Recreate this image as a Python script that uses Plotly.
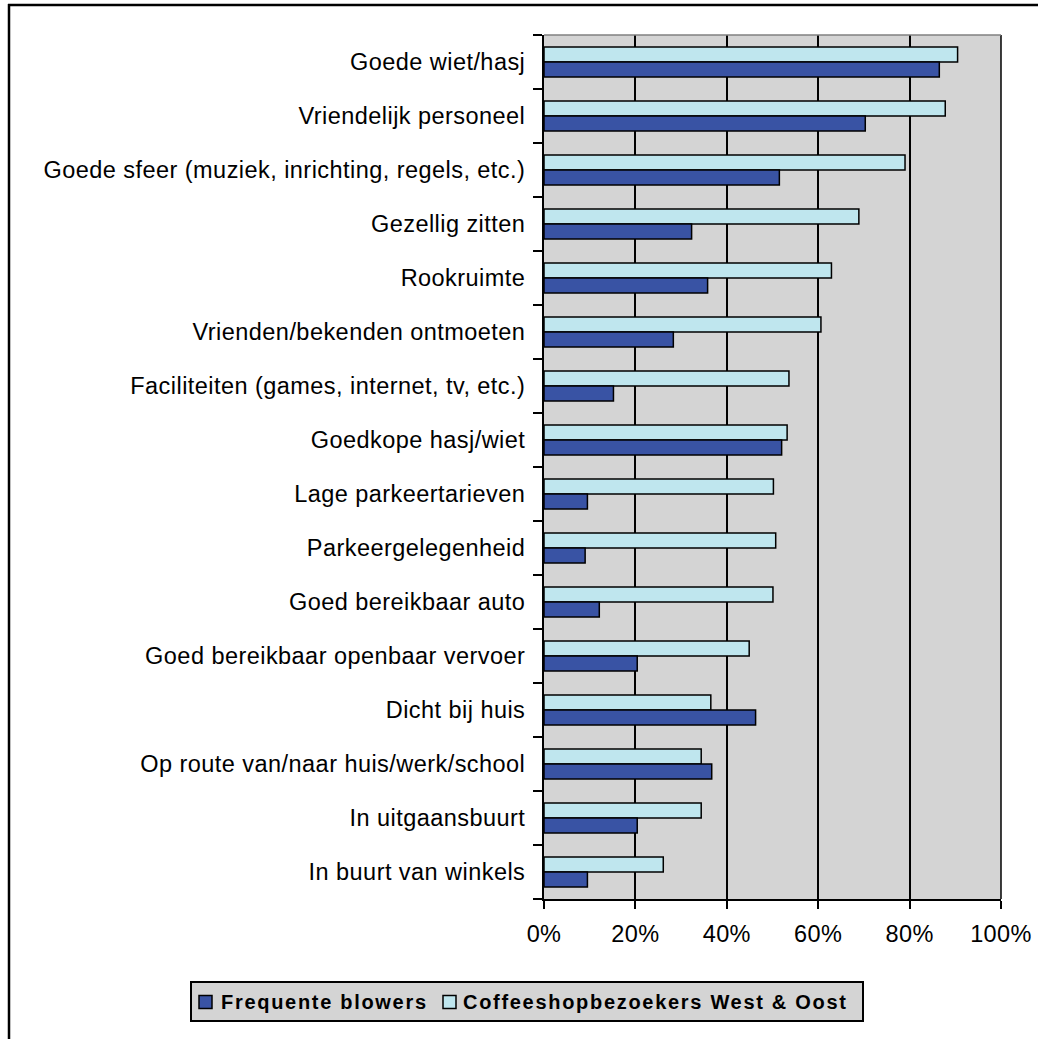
import plotly.graph_objects as go

categories = [
    "Goede wiet/hasj",
    "Vriendelijk personeel",
    "Goede sfeer (muziek, inrichting, regels, etc.)",
    "Gezellig zitten",
    "Rookruimte",
    "Vrienden/bekenden ontmoeten",
    "Faciliteiten (games, internet, tv, etc.)",
    "Goedkope hasj/wiet",
    "Lage parkeertarieven",
    "Parkeergelegenheid",
    "Goed bereikbaar auto",
    "Goed bereikbaar openbaar vervoer",
    "Dicht bij huis",
    "Op route van/naar huis/werk/school",
    "In uitgaansbuurt",
    "In buurt van winkels",
]
frequente_blowers = [0.865, 0.703, 0.515, 0.323, 0.358, 0.283, 0.152, 0.520, 0.095,
                     0.090, 0.121, 0.204, 0.463, 0.367, 0.204, 0.095]
coffeeshop_bezoekers = [0.905, 0.878, 0.790, 0.689, 0.629, 0.606, 0.536, 0.532, 0.502,
                        0.507, 0.501, 0.449, 0.365, 0.344, 0.344, 0.261]
x_ticks = [0, 0.2, 0.4, 0.6, 0.8, 1.0]
x_tick_labels = ["0%", "20%", "40%", "60%", "80%", "100%"]
series_names = ["Frequente blowers", "Coffeeshopbezoekers West & Oost"]
series_colors = ["#3953A4", "#BFE6EE"]

W, H = 1038, 1039
L, R, T, B = 544, 1001, 35, 899


def px(xp):
    return (xp - L) / (R - L)


def py(yp):
    return (B - yp) / (B - T)


def spaced(s, sp):
    return "<span style='letter-spacing:%spx'>%s</span>" % (sp, s.replace("&", "&amp;"))


FONT = "Liberation Sans, Arial, sans-serif"

fig = go.Figure()
fig.add_trace(go.Bar(
    y=categories, x=coffeeshop_bezoekers, orientation="h",
    name=series_names[1],
    marker=dict(color=series_colors[1], line=dict(color="#000000", width=1.5)),
))
fig.add_trace(go.Bar(
    y=categories, x=frequente_blowers, orientation="h",
    name=series_names[0],
    marker=dict(color=series_colors[0], line=dict(color="#000000", width=1.5)),
))

# manual legend (box, swatches, labels)
LEG_T, LEG_B = 982, 1021
LEG_L, LEG_R = 191, 863
ymid = (LEG_T + LEG_B) / 2
shapes = [
    dict(type="line", xref="paper", yref="paper",
         x0=px(R), x1=px(R), y0=0, y1=1, line=dict(color="black", width=1.5)),
    dict(type="line", xref="paper", yref="paper",
         x0=0, x1=px(R), y0=1, y1=1, line=dict(color="#808080", width=1.5)),
    dict(type="line", xref="paper", yref="paper",
         x0=px(9), x1=px(9), y0=py(4), y1=py(1100), line=dict(color="black", width=2.5)),
    dict(type="line", xref="paper", yref="paper",
         x0=px(8), x1=px(1100), y0=py(5), y1=py(5), line=dict(color="black", width=2.5)),
    dict(type="rect", xref="paper", yref="paper",
         x0=px(LEG_L), x1=px(LEG_R), y0=py(LEG_B), y1=py(LEG_T),
         fillcolor="#D4D4D4", line=dict(color="black", width=2)),
]
annotations = []
swatch_x = [199, 443]
text_x = [219, 461]
for i in range(2):
    shapes.append(dict(
        type="rect", xref="paper", yref="paper",
        x0=px(swatch_x[i]), x1=px(swatch_x[i] + 13),
        y0=py(ymid + 7), y1=py(ymid - 6),
        fillcolor=series_colors[i], line=dict(color="black", width=1.5)))
    annotations.append(dict(
        xref="paper", yref="paper", x=px(text_x[i]), y=py(ymid),
        xanchor="left", yanchor="middle", showarrow=False,
        text="<b>" + spaced(series_names[i], 1.7) + "</b>",
        font=dict(family=FONT, size=20, color="black"),
    ))

fig.update_layout(
    width=W, height=H,
    margin=dict(l=L, r=W - R, t=T, b=H - B, autoexpand=False),
    paper_bgcolor="white",
    plot_bgcolor="#D4D4D4",
    barmode="group",
    bargap=0.444,
    bargroupgap=0,
    font=dict(family=FONT, size=23.5, color="black"),
    showlegend=False,
    xaxis=dict(
        range=[0, 1], tickvals=x_ticks,
        ticktext=[spaced(t, 0.4) for t in x_tick_labels],
        showgrid=True, gridcolor="black", gridwidth=1.5,
        ticks="outside", ticklen=8, tickwidth=1.5, tickcolor="black",
        showline=True, linecolor="black", linewidth=2, mirror=False,
        ticklabelstandoff=5, zeroline=False,
        fixedrange=True,
    ),
    yaxis=dict(
        autorange="reversed", type="category",
        categoryorder="array", categoryarray=categories,
        tickvals=categories,
        ticktext=[spaced(c, 0.45) for c in categories],
        tickson="boundaries",
        ticks="outside", ticklen=9, tickwidth=1.5, tickcolor="black",
        showline=True, linecolor="black", linewidth=2,
        showgrid=False, ticklabelstandoff=12,
    ),
    shapes=shapes,
    annotations=annotations,
)

fig.write_html("out.html")
